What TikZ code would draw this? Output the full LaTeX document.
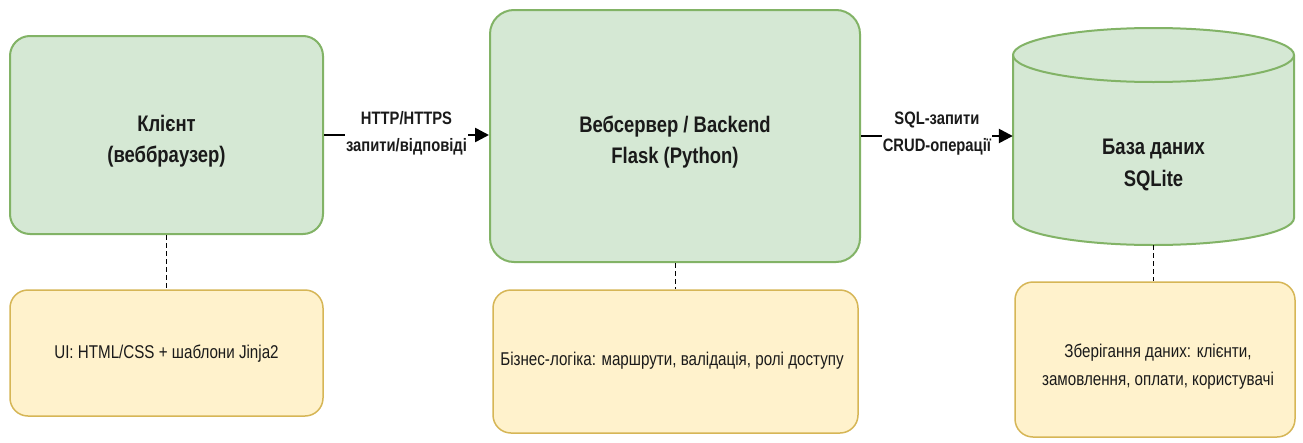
\documentclass[tikz,border=0pt]{standalone}
\usepackage{fontspec}
\setmainfont{Liberation Sans}[FakeStretch=0.82]
\usetikzlibrary{arrows.meta}
\definecolor{gfill}{HTML}{D5E8D4}
\definecolor{gline}{HTML}{82B366}
\definecolor{yfill}{HTML}{FFF2CC}
\definecolor{yline}{HTML}{D6B656}
\definecolor{txt}{HTML}{1A1A1A}
\begin{document}
\begin{tikzpicture}[x=1pt,y=-1pt,
  gbox/.style={draw=gline,fill=gfill,line width=2pt,rounded corners=20pt,inner sep=0pt},
  gtext/.style={align=center,text=txt,inner sep=0pt,font=\fontsize{22.5}{31.5}\selectfont\bfseries},
  ybox/.style={draw=yline,fill=yfill,line width=1.5pt,rounded corners=18pt,inner sep=0pt},
  ytext/.style={align=center,text=txt,inner sep=0pt,font=\fontsize{18.5}{28}\selectfont},
  flow/.style={line width=2.5pt,-{Triangle[length=14pt,width=14pt]}},
  elab/.style={fill=white,inner sep=1pt,align=center,text=txt,font=\fontsize{18}{27}\selectfont\bfseries},
  dashline/.style={line width=1pt,dash pattern=on 4.5pt off 3.5pt}]
\useasboundingbox (0,0) rectangle (1303,442);
\fill[white] (0,0) rectangle (1303,442);
% boxes
\node[gbox,minimum width=313pt,minimum height=198pt] (client) at (166.5,135) {};
\node[gtext] (clientl) at (166.5,141) {Клієнт\\(веббраузер)};
\node[gbox,minimum width=370pt,minimum height=252pt,rounded corners=24pt] (server) at (675,136) {};
\node[gtext] (serverl) at (675,142) {Вебсервер / Backend\\Flask (Python)};
% cylinder
\def\cx{1153.5}\def\rx{140.5}\def\ry{27}
\filldraw[draw=gline,fill=gfill,line width=2pt] (\cx-\rx,55) -- (\cx-\rx,218) arc[start angle=180,end angle=360,x radius=\rx,y radius=-\ry] -- (\cx+\rx,55) arc[start angle=0,end angle=180,x radius=\rx,y radius=-\ry] -- cycle;
\draw[draw=gline,line width=2pt] (\cx-\rx,55) arc[start angle=180,end angle=360,x radius=\rx,y radius=-\ry];
\node[minimum width=281pt,minimum height=218pt,inner sep=0pt] (db) at (\cx,136) {};
\node[gtext] (dbl) at (\cx,165) {База даних\\SQLite};
% notes
\node[ybox,minimum width=313pt,minimum height=126pt] (ui) at (166.5,353) {};
\node[ytext] (uil) at (166.5,354) {UI: HTML/CSS + шаблони Jinja2};
\node[ybox,minimum width=365pt,minimum height=143pt] (biz) at (675.5,361.5) {};
\node[ytext] (bizl) at (672,361) {Бізнес-логіка: маршрути, валідація, ролі доступу};
\node[ybox,minimum width=280pt,minimum height=155pt] (st) at (1155,359.5) {};
\node[ytext,font=\fontsize{18.5}{28}\selectfont] (stl) at (1158,367) {Зберігання даних: клієнти,\\замовлення, оплати, користувачі};
% connectors
\draw[flow] (client.east) -- node[elab,yshift=2pt] {HTTP/HTTPS\\запити/відповіді} (client.east -| server.west);
\draw[flow] (server.east) -- node[elab,yshift=2pt] {SQL-запити\\CRUD-операції} (server.east -| db.west);
\draw[dashline] (client.south) -- (ui.north);
\draw[dashline] (server.south) -- (server.south |- biz.north);
\draw[dashline] (db.south) -- (db.south |- st.north);
\end{tikzpicture}
\end{document}
